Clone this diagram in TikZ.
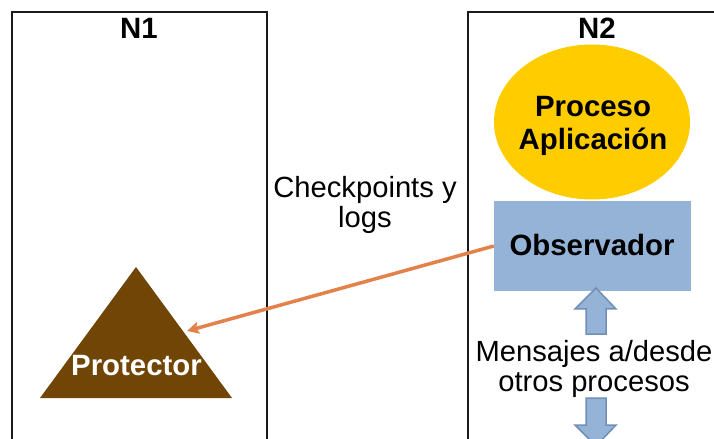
\documentclass[tikz,border=0pt]{standalone}
\usepackage{fontspec}
\setmainfont{Liberation Sans}
\usetikzlibrary{shapes.geometric,arrows.meta}
\definecolor{procyellow}{HTML}{FFCC00}
\definecolor{obsblue}{HTML}{95B3D7}
\definecolor{arrowedge}{HTML}{6F8FB6}
\definecolor{protbrown}{HTML}{704505}
\definecolor{logorange}{HTML}{E4814A}
\definecolor{framegray}{HTML}{1A1A1A}
\begin{document}
\begin{tikzpicture}[x=1bp,y=-1bp,
  frame/.style={draw=framegray, line width=1.8bp},
  boldlbl/.style={font=\fontsize{29.5}{33}\selectfont\bfseries, inner sep=0pt, align=center},
  plainlbl/.style={font=\fontsize{29.3}{31}\selectfont, inner sep=0pt, align=center},
  blockarrow/.style={fill=obsblue, draw=arrowedge, line width=1.5bp, line join=miter},
  logarrow/.style={draw=logorange, line width=3.5bp, -{Stealth[length=12bp,width=12bp,inset=2.5bp]}}]
\useasboundingbox (0,0) rectangle (714,439);
\clip (0,0) rectangle (714,439);
% node frames
\draw[frame] (12,460) |- (267,12) -- (267,460);
\draw[frame] (468,460) |- (740,12);
\node[boldlbl, anchor=base] (n1) at (139,38.5) {N1};
\node[boldlbl, anchor=base] (n2) at (597,38.5) {N2};
% process
\node[ellipse, fill=procyellow, minimum width=196bp, minimum height=155bp, inner sep=0pt] (proc) at (592,122) {};
\node[boldlbl] (proctext) at (593,126) {Proceso\\Aplicación};
% observer
\node[fill=obsblue, minimum width=197bp, minimum height=90bp, inner sep=0pt] (obs) at (592.5,246) {};
\node[boldlbl, anchor=base] (obstext) at (592,256) {Observador};
% protector
\coordinate (tapex) at (136,267);
\coordinate (tright) at (232,398);
\coordinate (tleft) at (40,398);
\fill[protbrown] (tapex) -- (tright) -- (tleft) -- cycle;
\node[boldlbl, anchor=base, text=white] (prot) at (136.5,375) {Protector};
\coordinate (protin) at (187,331);
% checkpoints
\node[plainlbl] (ckp) at (365,205) {Checkpoints y\\logs};
\draw[logarrow] (obs.west) -- (protin);
% messages
\node[plainlbl] (msg) at (594,369) {Mensajes a/desde\\otros procesos};
\draw[blockarrow] (596,288) -- (616,309) -- (606,309) -- (606,334) -- (586,334) -- (586,309) -- (575,309) -- cycle;
\draw[blockarrow] (596,446) -- (616,425) -- (606,425) -- (606,398) -- (586,398) -- (586,425) -- (575,425) -- cycle;
\end{tikzpicture}
\end{document}
